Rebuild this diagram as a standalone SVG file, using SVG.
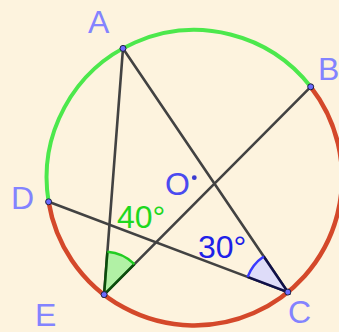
<svg xmlns="http://www.w3.org/2000/svg" width="339" height="332" viewBox="0 0 339 332">
<style>
.lbl{font-family:"Liberation Sans","DejaVu Sans",Arial,sans-serif;font-size:32px;fill:#8383ff}
.ang{font-family:"Liberation Sans","DejaVu Sans",Arial,sans-serif;font-size:32px}
.seg{stroke:#424242;stroke-width:2.6;fill:none;stroke-linecap:round}
.pt{fill:#6b6bff;stroke:#202040;stroke-width:1}
</style>
<rect width="339" height="332" fill="#fdf3de"/>
<g id="arcs" fill="none">
<path d="M48.6,201.8 A147.7,147.7 0 0 1 310.7,86.8" stroke="#4ce84c" stroke-width="4"/>
<path d="M310.7,86.8 A147.7,147.7 0 1 1 48.6,201.8" stroke="#d4482a" stroke-width="4.5"/>
</g>
<g id="connectors">
<line class="seg" x1="123" y1="48.4" x2="104.1" y2="294.6"/>
<line class="seg" x1="123" y1="48.4" x2="287.8" y2="292.1"/>
<line class="seg" x1="310.7" y1="86.8" x2="104.1" y2="294.6"/>
<line class="seg" x1="48.6" y1="201.8" x2="287.8" y2="292.1"/>
</g>
<g id="angle-E">
<path d="M104.1,294.6 L107.4,251.7 A43,43 0 0 1 134.4,264.1 Z" fill="#7ef07e" fill-opacity="0.6" stroke="none"/>
<path d="M107.4,251.7 L104.1,294.6 L134.4,264.1" fill="none" stroke="#0b4d0b" stroke-width="2.5"/>
<path d="M107.4,251.7 A43,43 0 0 1 134.4,264.1" fill="none" stroke="#22cc22" stroke-width="2.5"/>
<text class="ang" x="117" y="228" fill="#1ed81e">40°</text>
</g>
<g id="angle-C">
<path d="M287.8,292.1 L247.6,276.9 A43,43 0 0 1 263.7,256.5 Z" fill="#d6d6ff" fill-opacity="0.8" stroke="none"/>
<path d="M247.6,276.9 L287.8,292.1 L263.7,256.5" fill="none" stroke="#101048" stroke-width="2.5"/>
<path d="M247.6,276.9 A43,43 0 0 1 263.7,256.5" fill="none" stroke="#3a3aff" stroke-width="2.5"/>
<text class="ang" x="198" y="258" fill="#2020e8">30°</text>
</g>
<g id="node-A"><circle class="pt" cx="123" cy="48.4" r="3"/><text class="lbl" x="88" y="33">A</text></g>
<g id="node-B"><circle class="pt" cx="310.7" cy="86.8" r="3"/><text class="lbl" x="318" y="80">B</text></g>
<g id="node-C"><circle class="pt" cx="287.8" cy="292.1" r="3"/><text class="lbl" x="288" y="323">C</text></g>
<g id="node-D"><circle class="pt" cx="48.6" cy="201.8" r="3"/><text class="lbl" x="11" y="209">D</text></g>
<g id="node-E"><circle class="pt" cx="104.1" cy="294.6" r="3"/><text class="lbl" x="35" y="326">E</text></g>
<g id="node-O"><circle cx="194.3" cy="177.7" r="2.4" fill="#3a3ad0"/><text class="lbl" x="165" y="195" style="fill:#4a4af0">O</text></g>
</svg>
